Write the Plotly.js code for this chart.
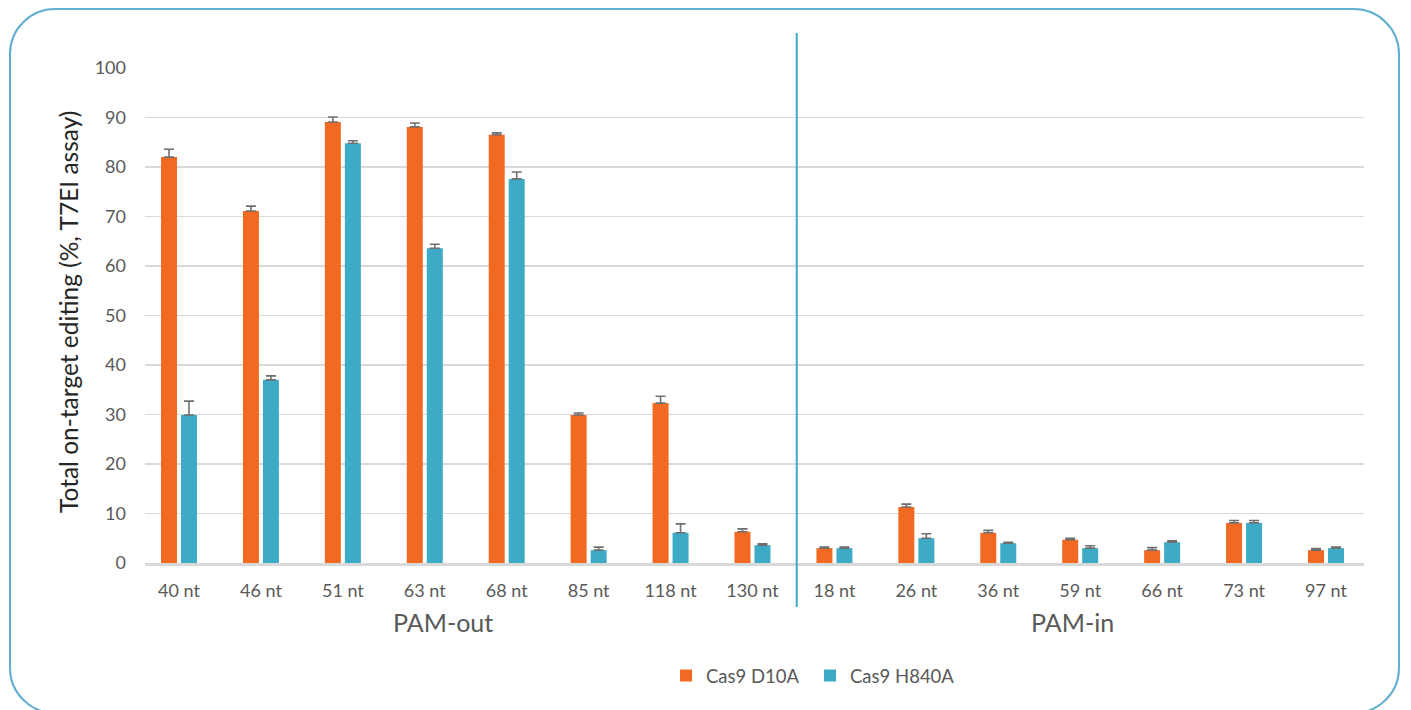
<!DOCTYPE html>
<html>
<head>
<meta charset="utf-8">
<script src="https://cdn.plot.ly/plotly-3.0.1.min.js"></script>
<style>
  html, body { margin: 0; padding: 0; background: #fff; }
  #wrap { position: relative; width: 1411px; height: 710px; overflow: hidden; }
  #frame { position: absolute; left: 9px; top: 8px; width: 1391px; height: 706px;
           border: 2.5px solid #62aed0; border-radius: 46px; box-sizing: border-box; }
  #chart { position: absolute; left: 0; top: 0; width: 1411px; height: 710px; }
</style>
</head>
<body>
<div id="wrap">
  <div id="frame"></div>
  <div id="chart"></div>
</div>
<script>
const categories = ["40 nt","46 nt","51 nt","63 nt","68 nt","85 nt","118 nt","130 nt",
                    "18 nt","26 nt","36 nt","59 nt","66 nt","73 nt","97 nt"];
const d10aValues = [82.0, 71.1, 89.1, 88.1, 86.5, 29.9, 32.3, 6.3, 3.0, 11.3, 6.1, 4.7, 2.6, 8.1, 2.6];
const d10aErrors = [1.6, 1.0, 1.0, 0.8, 0.4, 0.4, 1.4, 0.6, 0.2, 0.6, 0.5, 0.3, 0.5, 0.5, 0.3];
const h840aValues = [29.9, 37.0, 84.8, 63.6, 77.6, 2.6, 6.1, 3.6, 3.0, 5.0, 4.0, 3.0, 4.2, 8.1, 3.0];
const h840aErrors = [2.8, 0.8, 0.5, 0.8, 1.4, 0.6, 1.8, 0.3, 0.2, 0.9, 0.2, 0.5, 0.3, 0.5, 0.2];
const zeros = categories.map(() => 0);
const groupLabels = ["PAM-out", "PAM-in"];
const yTickVals = [0,10,20,30,40,50,60,70,80,90,100];

const FONT = "Lato, 'Open Sans', sans-serif";
const GRAY = "#595959";

const xIdx = categories.map((_, i) => i);

const errStyle = { color: "#6f6f6f", thickness: 1.6, width: 5 };

const traces = [
  {
    type: "bar", name: "Cas9 D10A", x: xIdx, y: d10aValues,
    marker: { color: "#f26a22" },
    error_y: Object.assign({ type: "data", symmetric: false, array: d10aErrors, arrayminus: zeros }, errStyle),
    hoverinfo: "y"
  },
  {
    type: "bar", name: "Cas9 H840A", x: xIdx, y: h840aValues,
    marker: { color: "#3daac6" },
    error_y: Object.assign({ type: "data", symmetric: false, array: h840aErrors, arrayminus: zeros }, errStyle),
    hoverinfo: "y"
  }
];

const plotTop = 68, plotBottom = 563, plotH = plotBottom - plotTop;
const py = (p) => (plotBottom - p) / plotH;
const px = (p) => (p - 145) / 1219;

const layout = {
  width: 1411, height: 710,
  margin: { l: 145, r: 47, t: plotTop, b: 710 - plotBottom, pad: 0 },
  paper_bgcolor: "rgba(0,0,0,0)", plot_bgcolor: "rgba(0,0,0,0)",
  font: { family: FONT, color: GRAY, size: 18 },
  barmode: "group", bargap: 0.512, bargroupgap: 0.2,
  showlegend: true,
  legend: { orientation: "h", x: px(666), xanchor: "left", y: py(676), yanchor: "middle",
            font: { family: FONT, size: 18.5, color: GRAY }, itemwidth: 30,
            entrywidth: 99, entrywidthmode: "pixels", traceorder: "normal" },
  xaxis: {
    type: "linear", range: [-0.415, 14.464],
    tickmode: "array", tickvals: xIdx, ticktext: categories,
    ticks: "", showgrid: false, zeroline: false,
    showline: true, linecolor: "#d9d9d9", linewidth: 3,
    tickfont: { family: FONT, size: 18, color: GRAY },
    ticklabelstandoff: 9, fixedrange: true
  },
  yaxis: {
    range: [0, 100], tickmode: "array", tickvals: yTickVals,
    ticks: "", showgrid: true, gridcolor: "#d9d9d9", gridwidth: 1.5,
    zeroline: false, showline: false,
    tickfont: { family: FONT, size: 18, color: GRAY },
    ticklabelstandoff: 18, fixedrange: true
  },
  shapes: [
    { type: "line", xref: "x", yref: "paper", x0: 7.54, x1: 7.54, y0: py(607), y1: py(33),
      line: { color: "#3ba9c8", width: 2 } }
  ],
  annotations: [
    { text: "Total on-target editing (%, T7EI assay)", xref: "paper", yref: "paper",
      x: px(68), y: py(312), xanchor: "center", yanchor: "middle",
      textangle: -90, showarrow: false, font: { family: FONT, size: 24.5, color: "#262626" } },
    { text: groupLabels[0], xref: "x", yref: "paper", x: 3.22, y: py(622),
      xanchor: "center", yanchor: "middle", showarrow: false,
      font: { family: FONT, size: 25, color: GRAY } },
    { text: groupLabels[1], xref: "x", yref: "paper", x: 10.9, y: py(622),
      xanchor: "center", yanchor: "middle", showarrow: false,
      font: { family: FONT, size: 25, color: GRAY } }
  ]
};

Plotly.newPlot("chart", traces, layout, { displayModeBar: false, staticPlot: true });
</script>
</body>
</html>
